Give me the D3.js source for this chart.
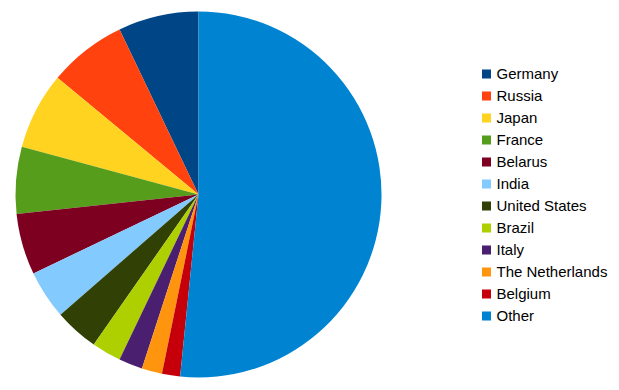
<!DOCTYPE html>
<html>
<head>
<meta charset="utf-8">
<script src="https://cdn.jsdelivr.net/npm/d3@7"></script>
<style>
  body { margin: 0; background: #fff; }
  text { font-family: "Liberation Sans", Arial, sans-serif; }
</style>
</head>
<body>
<div id="wrapper"></div>
<script>
// share of each country, in percent
const countries = ['Germany', 'Russia', 'Japan', 'France', 'Belarus', 'India',
    'United States', 'Brazil', 'Italy', 'The Netherlands', 'Belgium', 'Other'];
const shares = [7.1, 6.9, 6.8, 5.9, 5.4, 4.3, 3.9, 2.6, 2.1, 1.8, 1.6, 51.6];
const colors = ['#004586', '#ff420e', '#ffd320', '#579d1c', '#7e0021', '#83caff',
    '#314004', '#aecf00', '#4b1f6f', '#ff950e', '#c5000b', '#0084d1'];

const width = 619, height = 390;
const cx = 198.5, cy = 194.5, radius = 183;

let data = countries.map(function (c, i) {
    return { 'name': c, 'value': shares[i], 'color': colors[i] };
});

const svg = d3.select('#wrapper')
    .append('svg')
    .attr('width', width)
    .attr('height', height);

// slices run counterclockwise from 12 o'clock
const pie = d3.pie()
    .sort(null)
    .value(function (d) { return d.value })
    .startAngle(0)
    .endAngle(-2 * Math.PI);

const arc = d3.arc().innerRadius(0).outerRadius(radius);

svg.append('g')
    .attr('transform', 'translate(' + cx + ',' + cy + ')')
    .selectAll('path')
    .data(pie(data))
    .enter()
    .append('path')
    .attr('d', arc)
    .style('fill', function (d) { return d.data.color });

// legend
const legY = d3.scaleBand()
    .domain(countries)
    .range([63, 327]);

const leg = svg.append('g')
    .selectAll('g')
    .data(data)
    .enter()
    .append('g')
    .attr('transform', function (d) {
        return 'translate(482,' + (legY(d.name) + legY.bandwidth() / 2) + ')';
    });

leg.append('rect')
    .attr('x', 0)
    .attr('y', -4.5)
    .attr('width', 9)
    .attr('height', 9)
    .style('fill', function (d) { return d.color });

leg.append('text')
    .attr('x', 14.5)
    .attr('y', 0)
    .attr('dy', '0.35em')
    .style('font-size', '15px')
    .style('fill', '#000')
    .text(function (d) { return d.name });
</script>
</body>
</html>
